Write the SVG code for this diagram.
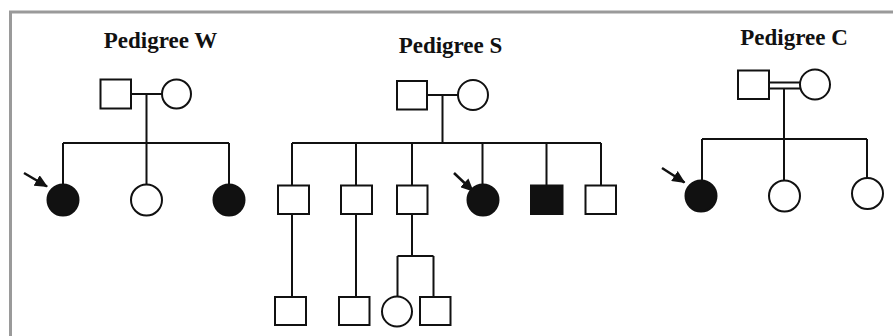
<svg xmlns="http://www.w3.org/2000/svg" width="893" height="336" viewBox="0 0 893 336">
<style>
.t{font-family:"Liberation Serif","Times New Roman",serif;font-weight:bold;font-size:23px;fill:#111;text-anchor:middle}
.m{fill:#fff;stroke:#111;stroke-width:2}
.a{fill:#111;stroke:#111;stroke-width:2}
.l{fill:none;stroke:#111;stroke-width:2}
.p{stroke:#111;stroke-width:2.5;fill:none}
</style>
<defs>
<marker id="ah2" markerWidth="13" markerHeight="12" refX="12" refY="6" orient="auto" markerUnits="userSpaceOnUse" viewBox="0 0 13 12">
<path d="M0,0 L13,6 L0,12 Z" fill="#111"/>
</marker>
</defs>
<rect width="893" height="336" fill="#fff"/>
<path d="M10.5,336 V12 H893" fill="none" stroke="#9a9a9a" stroke-width="3"/>
<text class="t" x="160.5" y="48">Pedigree W</text>
<text class="t" x="450.5" y="53">Pedigree S</text>
<text class="t" x="794" y="45">Pedigree C</text>
<g id="connectors">
<path class="l" d="M131,94 H162 M146.5,94 V143 M63,143 H229 M63,143 V184 M146.5,143 V184 M229,143 V184"/>
<path class="l" d="M427,95 H458 M442.5,95 V143 M292,143 H601 M292,143 V185 M356,143 V185 M412,143 V185 M482.5,143 V184.5 M546.5,143 V185 M601,143 V185"/>
<path class="l" d="M292,214 V297 M356,214 V297 M412,214 V256 M397.5,256 H433.5 M397.5,256 V296 M433.5,256 V297"/>
<path class="l" d="M769,82.5 H800 M769,88.5 H801 M784,88.5 V139 M702,139 H867 M702,139 V180 M784,139 V180 M867,139 V178"/>
<line class="p" x1="24" y1="173" x2="47" y2="186.5" marker-end="url(#ah2)"/>
<line class="p" x1="454" y1="173" x2="473" y2="191" marker-end="url(#ah2)"/>
<line class="p" x1="662" y1="168" x2="684.5" y2="182.5" marker-end="url(#ah2)"/>
</g>
<g id="W-father"><rect class="m" x="100.5" y="79.5" width="30.5" height="29"/></g>
<g id="W-mother"><circle class="m" cx="176.5" cy="94" r="14.5"/></g>
<g id="W-child1"><circle class="a" cx="63" cy="200" r="15.5"/></g>
<g id="W-child2"><circle class="m" cx="146.5" cy="200" r="15.5"/></g>
<g id="W-child3"><circle class="a" cx="229" cy="200" r="15.5"/></g>
<g id="S-father"><rect class="m" x="397" y="81" width="30" height="28.5"/></g>
<g id="S-mother"><circle class="m" cx="473" cy="95" r="15"/></g>
<g id="S-child1"><rect class="m" x="278" y="185.5" width="31" height="28.5"/></g>
<g id="S-child2"><rect class="m" x="341" y="185.5" width="31" height="28.5"/></g>
<g id="S-child3"><rect class="m" x="397" y="185.5" width="30.5" height="28.5"/></g>
<g id="S-child4"><circle class="a" cx="483" cy="200" r="15.5"/></g>
<g id="S-child5"><rect class="a" x="531" y="185.5" width="31.5" height="28.5"/></g>
<g id="S-child6"><rect class="m" x="585.5" y="185.5" width="30.5" height="28.5"/></g>
<g id="S-grandchild1"><rect class="m" x="275" y="297" width="31" height="28"/></g>
<g id="S-grandchild2"><rect class="m" x="339" y="297" width="30.5" height="28"/></g>
<g id="S-grandchild3"><circle class="m" cx="397" cy="311.5" r="15"/></g>
<g id="S-grandchild4"><rect class="m" x="420" y="297" width="30.5" height="28"/></g>
<g id="C-father"><rect class="m" x="738" y="70.5" width="31" height="28.5"/></g>
<g id="C-mother"><circle class="m" cx="815" cy="84.5" r="15"/></g>
<g id="C-child1"><circle class="a" cx="701" cy="196" r="15.5"/></g>
<g id="C-child2"><circle class="m" cx="784.5" cy="196" r="15.5"/></g>
<g id="C-child3"><circle class="m" cx="867.5" cy="193.5" r="15.5"/></g>
</svg>
